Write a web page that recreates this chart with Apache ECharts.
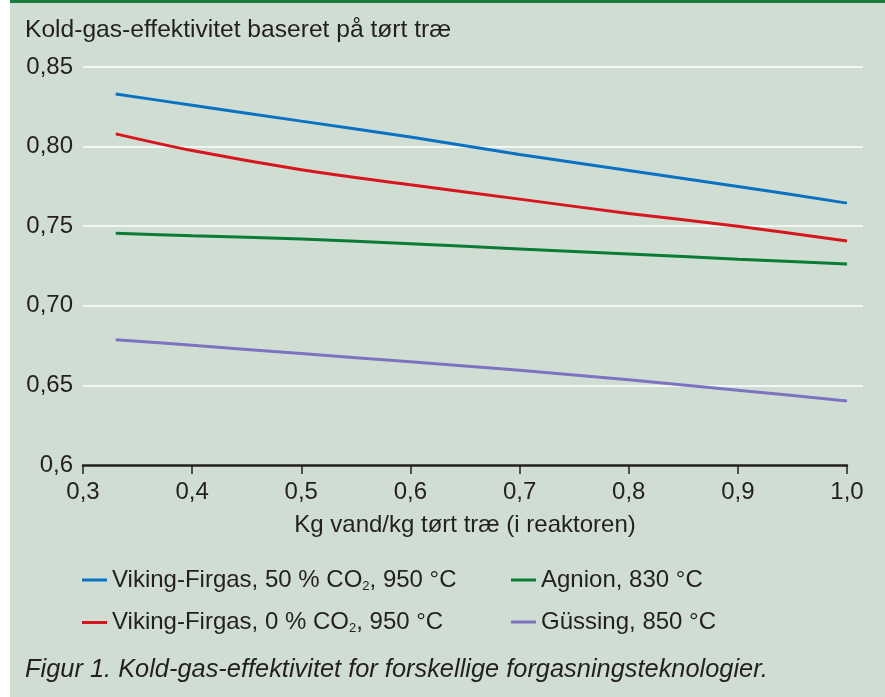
<!DOCTYPE html>
<html>
<head>
<meta charset="utf-8">
<style>html,body{margin:0;padding:0;background:#fff;}#chart{width:885px;height:697px;}</style>
<script src="https://cdn.jsdelivr.net/npm/echarts@6/dist/echarts.min.js"></script>
</head>
<body>
<div id="chart"></div>
<script>
// ---- data ----
var xValues = [0.33, 0.4, 0.5, 0.6, 0.7, 0.8, 0.9, 1.0];
var vikingCO2_50 = [0.833, 0.826, 0.816, 0.806, 0.795, 0.785, 0.775, 0.7645];
var vikingCO2_0  = [0.808, 0.7975, 0.7855, 0.776, 0.767, 0.758, 0.750, 0.7407];
var agnion       = [0.7455, 0.744, 0.742, 0.739, 0.7357, 0.7325, 0.7293, 0.7262];
var gussing      = [0.6787, 0.6752, 0.670, 0.6648, 0.6595, 0.6535, 0.647, 0.6402];
var seriesNames = ['Viking-Firgas, 50 % CO2, 950 °C', 'Viking-Firgas, 0 % CO2, 950 °C', 'Agnion, 830 °C', 'Güssing, 850 °C'];
var xTickLabels = ['0,3', '0,4', '0,5', '0,6', '0,7', '0,8', '0,9', '1,0'];
var yTickLabels = ['0,6', '0,65', '0,70', '0,75', '0,80', '0,85'];
var yTitle = 'Kold-gas-effektivitet baseret på tørt træ';
var xTitle = 'Kg vand/kg tørt træ (i reaktoren)';
var caption = 'Figur 1. Kold-gas-effektivitet for forskellige forgasningsteknologier.';

function pairs(ys) { return xValues.map(function (x, i) { return [x, ys[i]]; }); }

var FONT = '"Liberation Sans", Arial, Helvetica, sans-serif';
var TXT = '#231f20';
var colors = ['#0a72c2', '#d7151f', '#0b7a36', '#7d74c0'];

var chart = echarts.init(document.getElementById('chart'), null, { renderer: 'canvas' });

function legendFormatter(name) {
  return name.replace('CO2', 'CO{sub|2}');
}
var legendText = {
  color: TXT, fontSize: 24, fontFamily: FONT,
  rich: { sub: { fontSize: 13, fontFamily: FONT, color: TXT, verticalAlign: 'bottom', padding: [12, 0, 0, 0] } }
};
var legendCommon = {
  orient: 'vertical', top: 568, padding: 0, itemGap: 18, icon: 'rect',
  itemWidth: 25, itemHeight: 3, formatter: legendFormatter, textStyle: legendText
};

var option = {
  backgroundColor: '#ffffff',
  animation: false,
  textStyle: { fontFamily: FONT },
  graphic: [
    { type: 'rect', z: -10, shape: { x: 10, y: 0, width: 875, height: 697 }, style: { fill: '#d0ddd3' } },
    { type: 'rect', z: -9, shape: { x: 10, y: 0, width: 875, height: 3 }, style: { fill: '#1b7b3b' } }
  ],
  title: [
    { text: yTitle, left: 25, top: 18, padding: 0,
      textStyle: { fontSize: 24.6, fontWeight: 'normal', color: TXT, fontFamily: FONT } },
    { text: caption, left: 25, top: 657, padding: 0,
      textStyle: { fontSize: 25.4, fontWeight: 'normal', fontStyle: 'italic', color: TXT, fontFamily: FONT } }
  ],
  legend: [
    Object.assign({ data: [seriesNames[0], seriesNames[1]], left: 82 }, legendCommon),
    Object.assign({ data: [seriesNames[2], seriesNames[3]], left: 511 }, legendCommon)
  ],
  grid: [
    { left: 83, top: 67, width: 764, height: 398 },
    { left: 83, top: 67, width: 780, height: 398 }
  ],
  xAxis: [
    { type: 'value', gridIndex: 0, min: 0.3, max: 1.0, interval: 0.1,
      axisLine: { show: true, lineStyle: { color: TXT, width: 2.5 } },
      axisTick: { show: true, length: 9, lineStyle: { color: TXT, width: 1.5 } },
      axisLabel: { color: TXT, fontSize: 24, fontFamily: FONT, margin: 15,
        formatter: function (v, i) { return xTickLabels[i]; } },
      splitLine: { show: false },
      name: xTitle, nameLocation: 'middle', nameGap: 48,
      nameTextStyle: { color: TXT, fontSize: 24, fontFamily: FONT } },
    { type: 'value', gridIndex: 1, min: 0, max: 1, show: false, splitLine: { show: false } }
  ],
  yAxis: [
    { type: 'value', gridIndex: 0, min: 0.6, max: 0.85, interval: 0.05, show: false, splitLine: { show: false } },
    { type: 'value', gridIndex: 1, min: 0.6, max: 0.85, interval: 0.05,
      axisLine: { show: false }, axisTick: { show: false },
      axisLabel: { color: TXT, fontSize: 24, fontFamily: FONT, margin: 10,
        formatter: function (v, i) { return yTickLabels[i]; } },
      splitLine: { show: true, showMinLine: false, lineStyle: { color: '#ffffff', width: 1.5 } } }
  ],
  series: [
    { name: seriesNames[0], data: pairs(vikingCO2_50) },
    { name: seriesNames[1], data: pairs(vikingCO2_0) },
    { name: seriesNames[2], data: pairs(agnion) },
    { name: seriesNames[3], data: pairs(gussing) }
  ].map(function (s, i) {
    return Object.assign({
      type: 'line', xAxisIndex: 0, yAxisIndex: 0, smooth: 0.3, symbol: 'none',
      lineStyle: { color: colors[i], width: 3 }, itemStyle: { color: colors[i] }, z: 5
    }, s);
  })
};
chart.setOption(option);
</script>
</body>
</html>
